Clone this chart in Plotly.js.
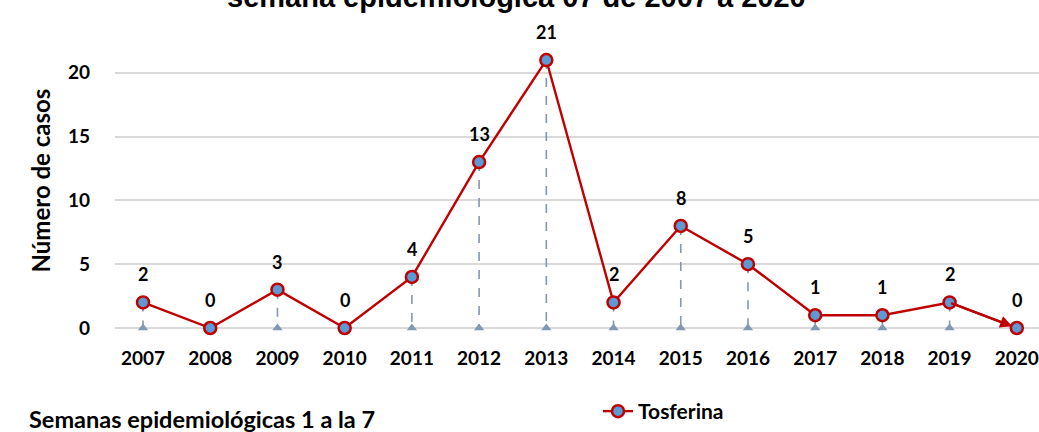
<!DOCTYPE html>
<html>
<head>
<meta charset="utf-8">
<script src="https://cdn.plot.ly/plotly-3.0.1.min.js"></script>
<style>html,body{margin:0;padding:0;background:#fff;}#chart{width:1039px;height:432px;}</style>
</head>
<body>
<div id="chart"></div>
<script>
const years = ['2007','2008','2009','2010','2011','2012','2013','2014','2015','2016','2017','2018','2019','2020'];
const cases = [2, 0, 3, 0, 4, 13, 21, 2, 8, 5, 1, 1, 2, 0];
const yTicks = [0, 5, 10, 15, 20];
const seriesName = 'Tosferina';
const titleText = 'semana epidemiológica 07 de 2007 a 2020';
const yTitle = 'Número de casos';
const footnote = 'Semanas epidemiológicas 1 a la 7';

const RED = '#c00000', BLUE = '#5b9bd5', DROP = '#8497b0';
const F = 'Lato, "Open Sans", sans-serif';

// drop lines built from data
const dx = [], dy = [];
const tx = [], ty = [];
years.forEach((yr, i) => {
  if (cases[i] > 0) {
    dx.push(yr, yr, null); dy.push(cases[i], 0, null);
    tx.push(yr); ty.push(0);
  }
});

const traces = [
  {x: dx, y: dy, mode: 'lines', line: {color: DROP, width: 1.6, dash: 'dash'}, showlegend: false, hoverinfo: 'skip', cliponaxis: false},
  {x: tx, y: ty, mode: 'markers', marker: {symbol: 'triangle-up', size: 9, color: DROP}, showlegend: false, hoverinfo: 'skip', cliponaxis: false},
  {x: years, y: cases, name: seriesName, mode: 'lines+markers', line: {color: RED, width: 2.4},
   marker: {size: 12, color: BLUE, line: {color: RED, width: 2.5}}, cliponaxis: false}
];

// category axes: annotations use the category index
const annotations = years.map((yr, i) => ({
  x: i, y: cases[i], xref: 'x', yref: 'y', text: String(cases[i]), showarrow: false,
  yshift: 28, font: {family: F, size: 18, color: '#000', weight: 'bold'}
}));
const last = years.length - 1;
annotations.push({x: last, y: cases[last], ax: last - 1, ay: cases[last-1], axref: 'x', ayref: 'y', xref: 'x', yref: 'y',
  showarrow: true, arrowhead: 2, arrowsize: 1, arrowwidth: 2.4, arrowcolor: RED, standoff: 5, text: ''});
annotations.push({xref: 'paper', yref: 'paper', x: 0.434, y: 0.981, yanchor: 'bottom', xanchor: 'center', showarrow: false,
  text: titleText, font: {family: '"Liberation Sans", Arial, sans-serif', size: 29, color: '#000', weight: 'bold'}});
annotations.push({xref: 'paper', yref: 'paper', x: (24-115)/924, y: 0.461, textangle: -90, showarrow: false,
  text: yTitle, font: {family: F, size: 24, color: '#000', weight: 'bold'}});
annotations.push({xref: 'paper', yref: 'paper', x: (27-115)/924, xanchor: 'left', y: (330-422)/321, yanchor: 'middle', showarrow: false,
  text: footnote, font: {family: F, size: 23.5, color: '#000', weight: 'bold'}});

const layout = {
  width: 1039, height: 432,
  margin: {l: 115, r: 0, t: 9, b: 102},
  paper_bgcolor: '#fff', plot_bgcolor: '#fff',
  showlegend: true,
  legend: {x: (598-115)/924, xanchor: 'left', y: (330-414)/321, yanchor: 'middle', orientation: 'h',
    font: {family: F, size: 21, color: '#000', weight: 'bold'}},
  xaxis: {type: 'category', categoryorder: 'array', categoryarray: years, range: [-0.417, 13.33],
    showgrid: false, zeroline: false, showline: false, ticks: '', ticklabelstandoff: 17,
    tickfont: {family: F, size: 19, color: '#000', weight: 'bold'}},
  yaxis: {range: [0, 25], tickvals: yTicks, showgrid: true, gridcolor: '#d9d9d9', gridwidth: 2,
    zeroline: true, zerolinecolor: '#d9d9d9', zerolinewidth: 2, showline: false,
    ticks: '', ticklabelstandoff: 24,
    tickfont: {family: F, size: 19, color: '#000', weight: 'bold'}},
  annotations: annotations
};

Plotly.newPlot('chart', traces, layout, {displayModeBar: false, staticPlot: true});
</script>
</body>
</html>
